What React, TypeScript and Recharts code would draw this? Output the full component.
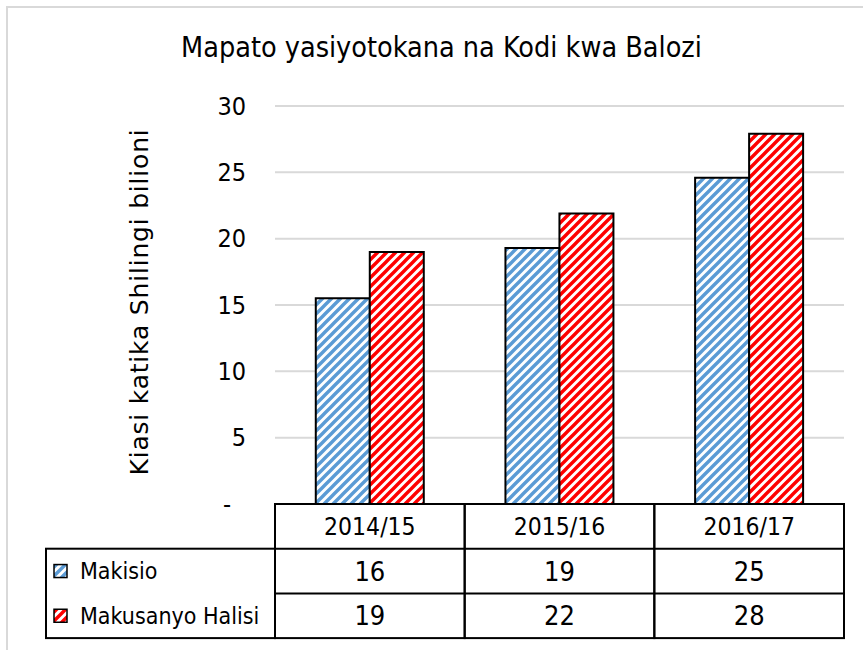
import React from "react";
import { Bar, BarChart, CartesianGrid, XAxis, YAxis } from "recharts";

const categories = ["2014/15", "2015/16", "2016/17"];
const makisio = [15.5, 19.3, 24.6];
const makusanyo = [19.0, 21.9, 27.9];
const seriesNames = ["Makisio", "Makusanyo Halisi"];
const yTicks = [0, 5, 10, 15, 20, 25, 30];

const data = categories.map((name, i) => ({
  name,
  makisio: makisio[i],
  makusanyo: makusanyo[i],
}));

const W = 863;
const H = 650;
const PLOT_LEFT = 275;
const PLOT_RIGHT = 19;
const COL_W = (W - PLOT_LEFT - PLOT_RIGHT) / categories.length;
const TABLE_TOP = 504;
const ROW_H = 44.7;
const LEGEND_LEFT = 46;
const FONT = "'DejaVu Sans Condensed', 'Liberation Sans Narrow', sans-serif";
const BLUE = "#5b9bd5";
const RED = "#ff0000";
const patterns = ["hatchBlue", "hatchRed"];

const YTick = (props: any) => {
  const { x, y, payload } = props;
  const isZero = payload.value === 0;
  return (
    <text
      x={isZero ? x - 15 : x}
      y={y}
      textAnchor="end"
      dominantBaseline="central"
      fontFamily={FONT}
      fontSize={25}
      fill="#000"
    >
      {isZero ? "-" : payload.value}
    </text>
  );
};

// each x tick draws its own column of the data table
const TableTick = (props: any) => {
  const { x, payload } = props;
  const i = payload.index ?? props.index ?? 0;
  const left = x - COL_W / 2;
  const rows = [makisio, makusanyo];
  return (
    <g>
      <rect
        x={left}
        y={TABLE_TOP}
        width={COL_W}
        height={ROW_H * 3}
        fill="none"
        stroke="#000"
        strokeWidth={2}
      />
      <line x1={left} x2={left + COL_W} y1={TABLE_TOP + ROW_H} y2={TABLE_TOP + ROW_H} stroke="#000" strokeWidth={2} />
      <line x1={left} x2={left + COL_W} y1={TABLE_TOP + ROW_H * 2} y2={TABLE_TOP + ROW_H * 2} stroke="#000" strokeWidth={2} />
      <text
        x={x}
        y={TABLE_TOP + ROW_H / 2}
        textAnchor="middle"
        dominantBaseline="central"
        fontFamily={FONT}
        fontSize={24.5}
        fill="#000"
      >
        {payload.value}
      </text>
      {rows.map((r, k) => (
        <text
          key={k}
          x={x}
          y={TABLE_TOP + ROW_H * (k + 1.5)}
          textAnchor="middle"
          dominantBaseline="central"
          fontFamily={FONT}
          fontSize={27}
          fill="#000"
        >
          {Math.round(r[i])}
        </text>
      ))}
      {i === 0 && (
        <g>
          <rect
            x={LEGEND_LEFT}
            y={TABLE_TOP + ROW_H}
            width={PLOT_LEFT - LEGEND_LEFT}
            height={ROW_H * 2}
            fill="none"
            stroke="#000"
            strokeWidth={2}
          />
          {seriesNames.map((s, k) => (
            <g key={s}>
              <rect
                x={54}
                y={TABLE_TOP + ROW_H * (k + 1.5) - 6.5}
                width={13}
                height={13}
                fill={`url(#${patterns[k]})`}
                stroke="#000"
                strokeWidth={1.5}
              />
              <text
                x={80}
                y={TABLE_TOP + ROW_H * (k + 1.5)}
                dominantBaseline="central"
                fontFamily={FONT}
                fontSize={23}
                fill="#000"
              >
                {s}
              </text>
            </g>
          ))}
        </g>
      )}
    </g>
  );
};

const YLabel = () => (
  <text
    x={139}
    y={302}
    transform="rotate(-90 139 302)"
    textAnchor="middle"
    dominantBaseline="central"
    fontFamily="'DejaVu Sans', Verdana, sans-serif"
    fontSize={25}
    letterSpacing={0.8}
    fill="#000"
  >
    Kiasi katika Shilingi bilioni
  </text>
);

export default function App() {
  return (
    <div
      style={{
        position: "absolute",
        left: 0,
        top: 0,
        width: W,
        height: H,
        background: "#fff",
        overflow: "hidden",
      }}
    >
      <div
        style={{
          position: "absolute",
          left: 6,
          top: 6,
          width: W,
          height: H,
          borderTop: "2px solid #d9d9d9",
          borderLeft: "2px solid #d9d9d9",
        }}
      />
      <div
        style={{
          position: "absolute",
          left: 0,
          top: 34,
          width: 883,
          textAlign: "center",
          fontFamily: FONT,
          fontSize: 28.5,
          lineHeight: 1,
          whiteSpace: "nowrap",
        }}
      >
        Mapato yasiyotokana na Kodi kwa Balozi
      </div>
      <div style={{ position: "absolute", left: 0, top: 0 }}>
        <BarChart
          width={W}
          height={H}
          data={data}
          margin={{ top: 106, right: PLOT_RIGHT, bottom: 11, left: 0 }}
          barCategoryGap="21.5%"
          barGap={0}
        >
          <defs>
            {[BLUE, RED].map((c, k) => (
              <pattern
                key={c}
                id={patterns[k]}
                patternUnits="userSpaceOnUse"
                width={9}
                height={9}
              >
                <rect width={9} height={9} fill="#fff" />
                <path
                  d="M-2,2 L2,-2 M0,9 L9,0 M7,11 L11,7"
                  stroke={c}
                  strokeWidth={3.4}
                />
              </pattern>
            ))}
          </defs>
          <CartesianGrid vertical={false} stroke="#d9d9d9" strokeWidth={2} />
          <XAxis
            dataKey="name"
            height={135}
            axisLine={false}
            tickLine={false}
            interval={0}
            tick={<TableTick />}
          />
          <YAxis
            width={PLOT_LEFT}
            domain={[0, 30]}
            ticks={yTicks}
            axisLine={false}
            tickLine={false}
            tickSize={0}
            tickMargin={29}
            tick={<YTick />}
            label={<YLabel />}
          />
          <Bar
            dataKey="makisio"
            name={seriesNames[0]}
            fill="url(#hatchBlue)"
            stroke="#000"
            strokeWidth={2}
            isAnimationActive={false}
          />
          <Bar
            dataKey="makusanyo"
            name={seriesNames[1]}
            fill="url(#hatchRed)"
            stroke="#000"
            strokeWidth={2}
            isAnimationActive={false}
          />
        </BarChart>
      </div>
    </div>
  );
}
